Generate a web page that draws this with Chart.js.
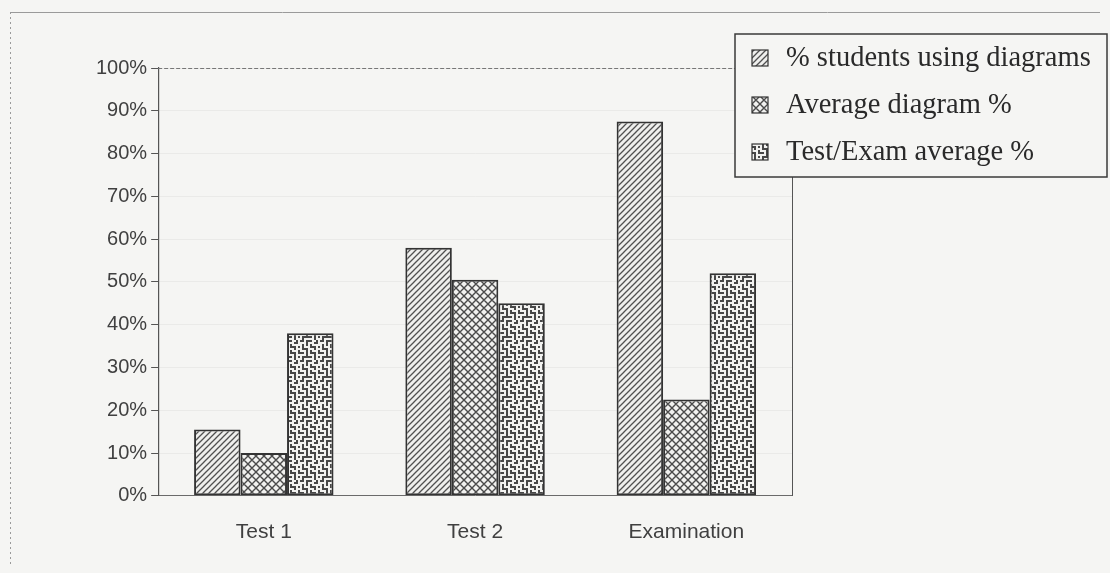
<!DOCTYPE html>
<html>
<head>
<meta charset="utf-8">
<script src="https://cdn.jsdelivr.net/npm/chart.js@4.4.1/dist/chart.umd.min.js"></script>
<style>
  html, body { margin: 0; padding: 0; background: #f5f5f3; }
  #wrap { width: 1110px; height: 573px; position: relative; }
</style>
</head>
<body>
<div id="wrap"><canvas id="graphe" width="1110" height="573"></canvas></div>
<script>
// Données
const categories = ["Test 1", "Test 2", "Examination"];
const seriesNames = ["% students using diagrams", "Average diagram %", "Test/Exam average %"];
const usingDiagrams = [15.5, 58, 87.5];
const averageDiagram = [10, 50.5, 22.5];
const testExamAverage = [38, 45, 52];
const yMax = 100;
const yStep = 10;

// Motifs (hachures, quadrillage, labyrinthe)
function motifHachure() {
  const c = document.createElement("canvas");
  c.width = 6; c.height = 6;
  const g = c.getContext("2d");
  g.fillStyle = "#efefed";
  g.fillRect(0, 0, 6, 6);
  g.strokeStyle = "#505050";
  g.lineWidth = 1.3;
  g.beginPath();
  g.moveTo(-1, 7); g.lineTo(7, -1);
  g.moveTo(-4, 4); g.lineTo(4, -4);
  g.moveTo(2, 10); g.lineTo(10, 2);
  g.stroke();
  return g.createPattern(c, "repeat");
}

function motifCroise() {
  const c = document.createElement("canvas");
  c.width = 8; c.height = 8;
  const g = c.getContext("2d");
  g.fillStyle = "#f1f1ef";
  g.fillRect(0, 0, 8, 8);
  g.strokeStyle = "#4a4a4a";
  g.lineWidth = 1.4;
  g.beginPath();
  g.moveTo(0, 0); g.lineTo(8, 8);
  g.moveTo(-4, 4); g.lineTo(4, 12);
  g.moveTo(4, -4); g.lineTo(12, 4);
  g.moveTo(0, 8); g.lineTo(8, 0);
  g.moveTo(-4, 4); g.lineTo(4, -4);
  g.moveTo(4, 12); g.lineTo(12, 4);
  g.stroke();
  return g.createPattern(c, "repeat");
}

const maze = [
  "##.###..#.",
  "...#...##.",
  ".#.#.#....",
  ".#...###.#",
  ".###...#..",
  "...#.#...#",
  "##.#.###.#",
  "...#...#..",
  ".#####.#.#",
  ".#.....#.."
];

function motifLabyrinthe() {
  const n = maze.length;
  const c = document.createElement("canvas");
  c.width = n * 2; c.height = n * 2;
  const g = c.getContext("2d");
  g.fillStyle = "#f2f2f0";
  g.fillRect(0, 0, n * 2, n * 2);
  g.fillStyle = "#474747";
  for (let r = 0; r < n; r++) {
    for (let k = 0; k < n; k++) {
      if (maze[r][k] === "#") g.fillRect(k * 2, r * 2, 2, 2);
    }
  }
  return g.createPattern(c, "repeat");
}

const motifs = [motifHachure(), motifCroise(), motifLabyrinthe()];

// Légende dessinée par-dessus la zone du graphique
const legendePlugin = {
  id: "legendePerso",
  afterDraw(chart) {
    const ctx = chart.ctx;
    const x0 = 735, y0 = 34, w = 372, h = 143;
    ctx.save();
    ctx.fillStyle = "#f5f5f3";
    ctx.fillRect(x0, y0, w, h);
    ctx.strokeStyle = "#3a3a3a";
    ctx.lineWidth = 1.5;
    ctx.strokeRect(x0, y0, w, h);
    ctx.font = "28.5px 'Liberation Serif', 'DejaVu Serif', serif";
    ctx.textBaseline = "middle";
    chart.data.datasets.forEach(function (ds, i) {
      const cy = 58 + i * 47;
      ctx.fillStyle = ds.backgroundColor;
      ctx.fillRect(752, cy - 8, 16, 16);
      ctx.strokeStyle = "#333";
      ctx.lineWidth = 1.2;
      ctx.strokeRect(752, cy - 8, 16, 16);
      ctx.fillStyle = "#2a2a2a";
      ctx.fillText(ds.label, 786, cy + 1);
    });
    ctx.restore();
  }
};

// Cadre de la zone de tracé et cadre extérieur
const cadrePlugin = {
  id: "cadre",
  beforeDatasetsDraw(chart) {
    const a = chart.chartArea;
    const ctx = chart.ctx;
    ctx.save();
    ctx.strokeStyle = "#777";
    ctx.lineWidth = 1;
    ctx.setLineDash([4, 2]);
    ctx.beginPath();
    ctx.moveTo(a.left, a.top + 0.5);
    ctx.lineTo(a.right, a.top + 0.5);
    ctx.stroke();
    ctx.setLineDash([]);
    ctx.strokeStyle = "#555";
    ctx.beginPath();
    ctx.moveTo(a.right + 0.5, a.top + 100);
    ctx.lineTo(a.right + 0.5, a.bottom);
    ctx.stroke();
    // cadre extérieur
    ctx.strokeStyle = "#9a9a9a";
    ctx.beginPath();
    ctx.moveTo(10, 12.5);
    ctx.lineTo(1100, 12.5);
    ctx.stroke();
    ctx.setLineDash([2, 3]);
    ctx.beginPath();
    ctx.moveTo(10.5, 12);
    ctx.lineTo(10.5, 565);
    ctx.stroke();
    ctx.restore();
  }
};

const ctx = document.getElementById("graphe").getContext("2d");
const donnees = [usingDiagrams, averageDiagram, testExamAverage];

new Chart(ctx, {
  type: "bar",
  data: {
    labels: categories,
    datasets: seriesNames.map(function (nom, i) {
      return {
        label: nom,
        data: donnees[i],
        backgroundColor: motifs[i],
        borderColor: "#333",
        borderWidth: 2,
        borderSkipped: false,
        categoryPercentage: 0.66,
        barPercentage: 1.0
      };
    })
  },
  options: {
    responsive: false,
    animation: false,
    devicePixelRatio: 1,
    layout: { padding: { left: 92, right: 318, top: 68, bottom: 4 } },
    plugins: {
      legend: { display: false },
      tooltip: { enabled: false },
      title: { display: false }
    },
    scales: {
      x: {
        grid: { display: false, drawTicks: false },
        border: { display: true, color: "#6a6a6a", width: 1 },
        ticks: {
          padding: 24,
          color: "#404040",
          font: { family: "'Liberation Sans', Arial, sans-serif", size: 21 }
        }
      },
      y: {
        min: 0,
        max: yMax,
        grid: {
          color: "rgba(0,0,0,0.045)",
          tickColor: "#555",
          tickLength: 7,
          drawOnChartArea: true
        },
        border: { display: true, color: "#555", width: 1.2 },
        ticks: {
          stepSize: yStep,
          padding: 4,
          color: "#404040",
          font: { family: "'Liberation Sans', Arial, sans-serif", size: 20 },
          callback: function (v) { return v + "%"; }
        }
      }
    }
  },
  plugins: [cadrePlugin, legendePlugin]
});
</script>
</body>
</html>
